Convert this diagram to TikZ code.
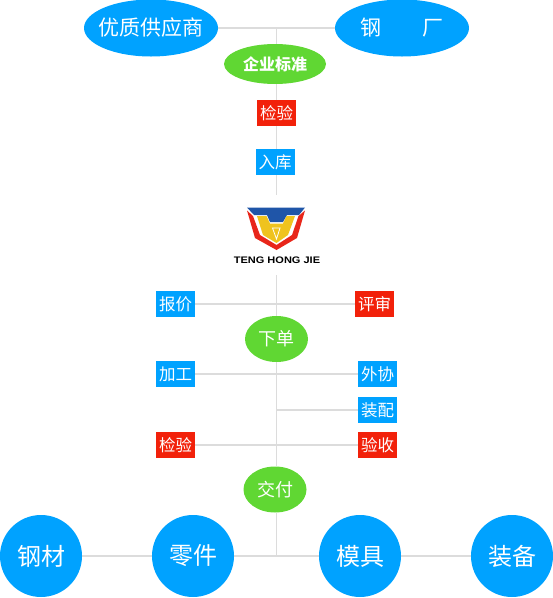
\documentclass[tikz,border=0pt]{standalone}
\usepackage{fontspec}
\setmainfont{Noto Sans CJK SC}
\newfontfamily\brandfont[FakeStretch=1.16]{Liberation Sans Bold}
\usetikzlibrary{shapes.geometric}
\definecolor{skyblue}{HTML}{00A2FF}
\definecolor{leafgreen}{HTML}{60D733}
\definecolor{alertred}{HTML}{F2210A}
\definecolor{linegray}{HTML}{DCDCDC}
\definecolor{logoblue}{HTML}{1F55A8}
\definecolor{logoyellow}{HTML}{EFC31E}
\definecolor{logored}{HTML}{E8261A}
\tikzset{
  oval/.style={ellipse, fill=skyblue, text=white, inner sep=0pt, minimum width=134pt, minimum height=57pt, font=\fontsize{21}{21}\selectfont},
  greenoval/.style={ellipse, fill=leafgreen, text=white, inner sep=0pt, minimum width=63pt, minimum height=46pt, font=\fontsize{18}{18}\selectfont},
  flatoval/.style={greenoval, minimum width=102pt, minimum height=40pt, font=\fontsize{16}{16}\selectfont\bfseries},
  bluebox/.style={rectangle, fill=skyblue, text=white, inner sep=0pt, minimum width=39pt, minimum height=26pt, font=\fontsize{16.5}{16.5}\selectfont},
  redbox/.style={bluebox, fill=alertred},
  bigdot/.style={circle, fill=skyblue, text=white, inner sep=0pt, minimum size=82pt, font=\fontsize{24}{24}\selectfont},
  link/.style={linegray, line width=1.2pt},
}
\begin{document}
\begin{tikzpicture}[x=1pt, y=-1pt]
    \useasboundingbox (0,0) rectangle (553,598);
    % coordinates on the trunk
    \coordinate (top) at (276.5,28);
    \coordinate (stop) at (276.5,195);
    \coordinate (restart) at (276.5,275);
    \coordinate (bottom) at (276.5,557);
    \coordinate (t3) at (276.5,410);
    % nodes
    \node[oval] (supplier) at (151,28) {\makebox[0pt]{优质供应商}};
    \node[oval] (steel) at (402,28) {\makebox[0pt]{钢\hspace{42pt}厂}};
    \node[flatoval] (standard) at (275,64) {\makebox[0pt]{企业标准}};
    \node[redbox] (check1) at (276.5,113) {检验};
    \node[bluebox] (store) at (275,162) {入库};
    \node[bluebox] (quote) at (175.5,304) {报价};
    \node[redbox] (review) at (374.5,304) {评审};
    \node[greenoval] (order) at (276.5,339) {下单};
    \node[bluebox] (machining) at (175.5,374) {加工};
    \node[bluebox] (outsource) at (377.5,374) {外协};
    \node[bluebox] (assembly) at (377.5,410) {装配};
    \node[redbox] (check2) at (175.5,445) {检验};
    \node[redbox] (accept) at (377.5,445) {验收};
    \node[greenoval] (deliver) at (275,489.5) {交付};
    \node[bigdot] (material) at (41,556) {钢材};
    \node[bigdot] (parts) at (193,556) {零件};
    \node[bigdot] (mould) at (360,556) {模具};
    \node[bigdot] (equip) at (512,556) {装备};
    % connectors
    \draw[link] (supplier) -- (steel);
    \draw[link] (top) -- (top |- standard.north);
    \draw[link] (top |- standard.south) -- (top |- check1.north);
    \draw[link] (top |- check1.south) -- (top |- store.north);
    \draw[link] (top |- store.south) -- (stop);
    \draw[link] (restart) -- (order);
    \draw[link] (quote) -- (review);
    \draw[link] (machining) -- (outsource);
    \draw[link] (t3) -- (assembly);
    \draw[link] (check2) -- (accept);
    \draw[link] (order.south) -- (top |- deliver.north);
    \draw[link] (top |- deliver.south) -- (bottom);
    \draw[link] (material) -- (parts);
    \draw[link] (parts) -- (mould);
    \draw[link] (mould) -- (equip);
    % logo
    \fill[logoblue] (247,207.5) -- (305,207.5) -- (299,215) -- (287,215) -- (283,222) -- (270,222) -- (267,215) -- (254,215) -- cycle;
    \fill[logored] (247,210.5) -- (253,216) -- (260,235) -- (276.5,245) -- (292,235) -- (298.5,216) -- (305,210.5) -- (297,238) -- (276.5,250) -- (255,238) -- cycle;
    \fill[logoyellow] (257,216) -- (266.5,216) -- (270,223.5) -- (283,223.5) -- (286.5,216) -- (295,216) -- (288,235) -- (276.5,243) -- (263,235) -- cycle;
    \draw[white, line width=0.8pt] (272.5,228) -- (280,228) -- (276.5,239) -- cycle;
    \node[font=\fontsize{9.5}{9.5}\selectfont\brandfont, inner sep=0pt] (brand) at (277,260) {TENG HONG JIE};
\end{tikzpicture}
\end{document}
